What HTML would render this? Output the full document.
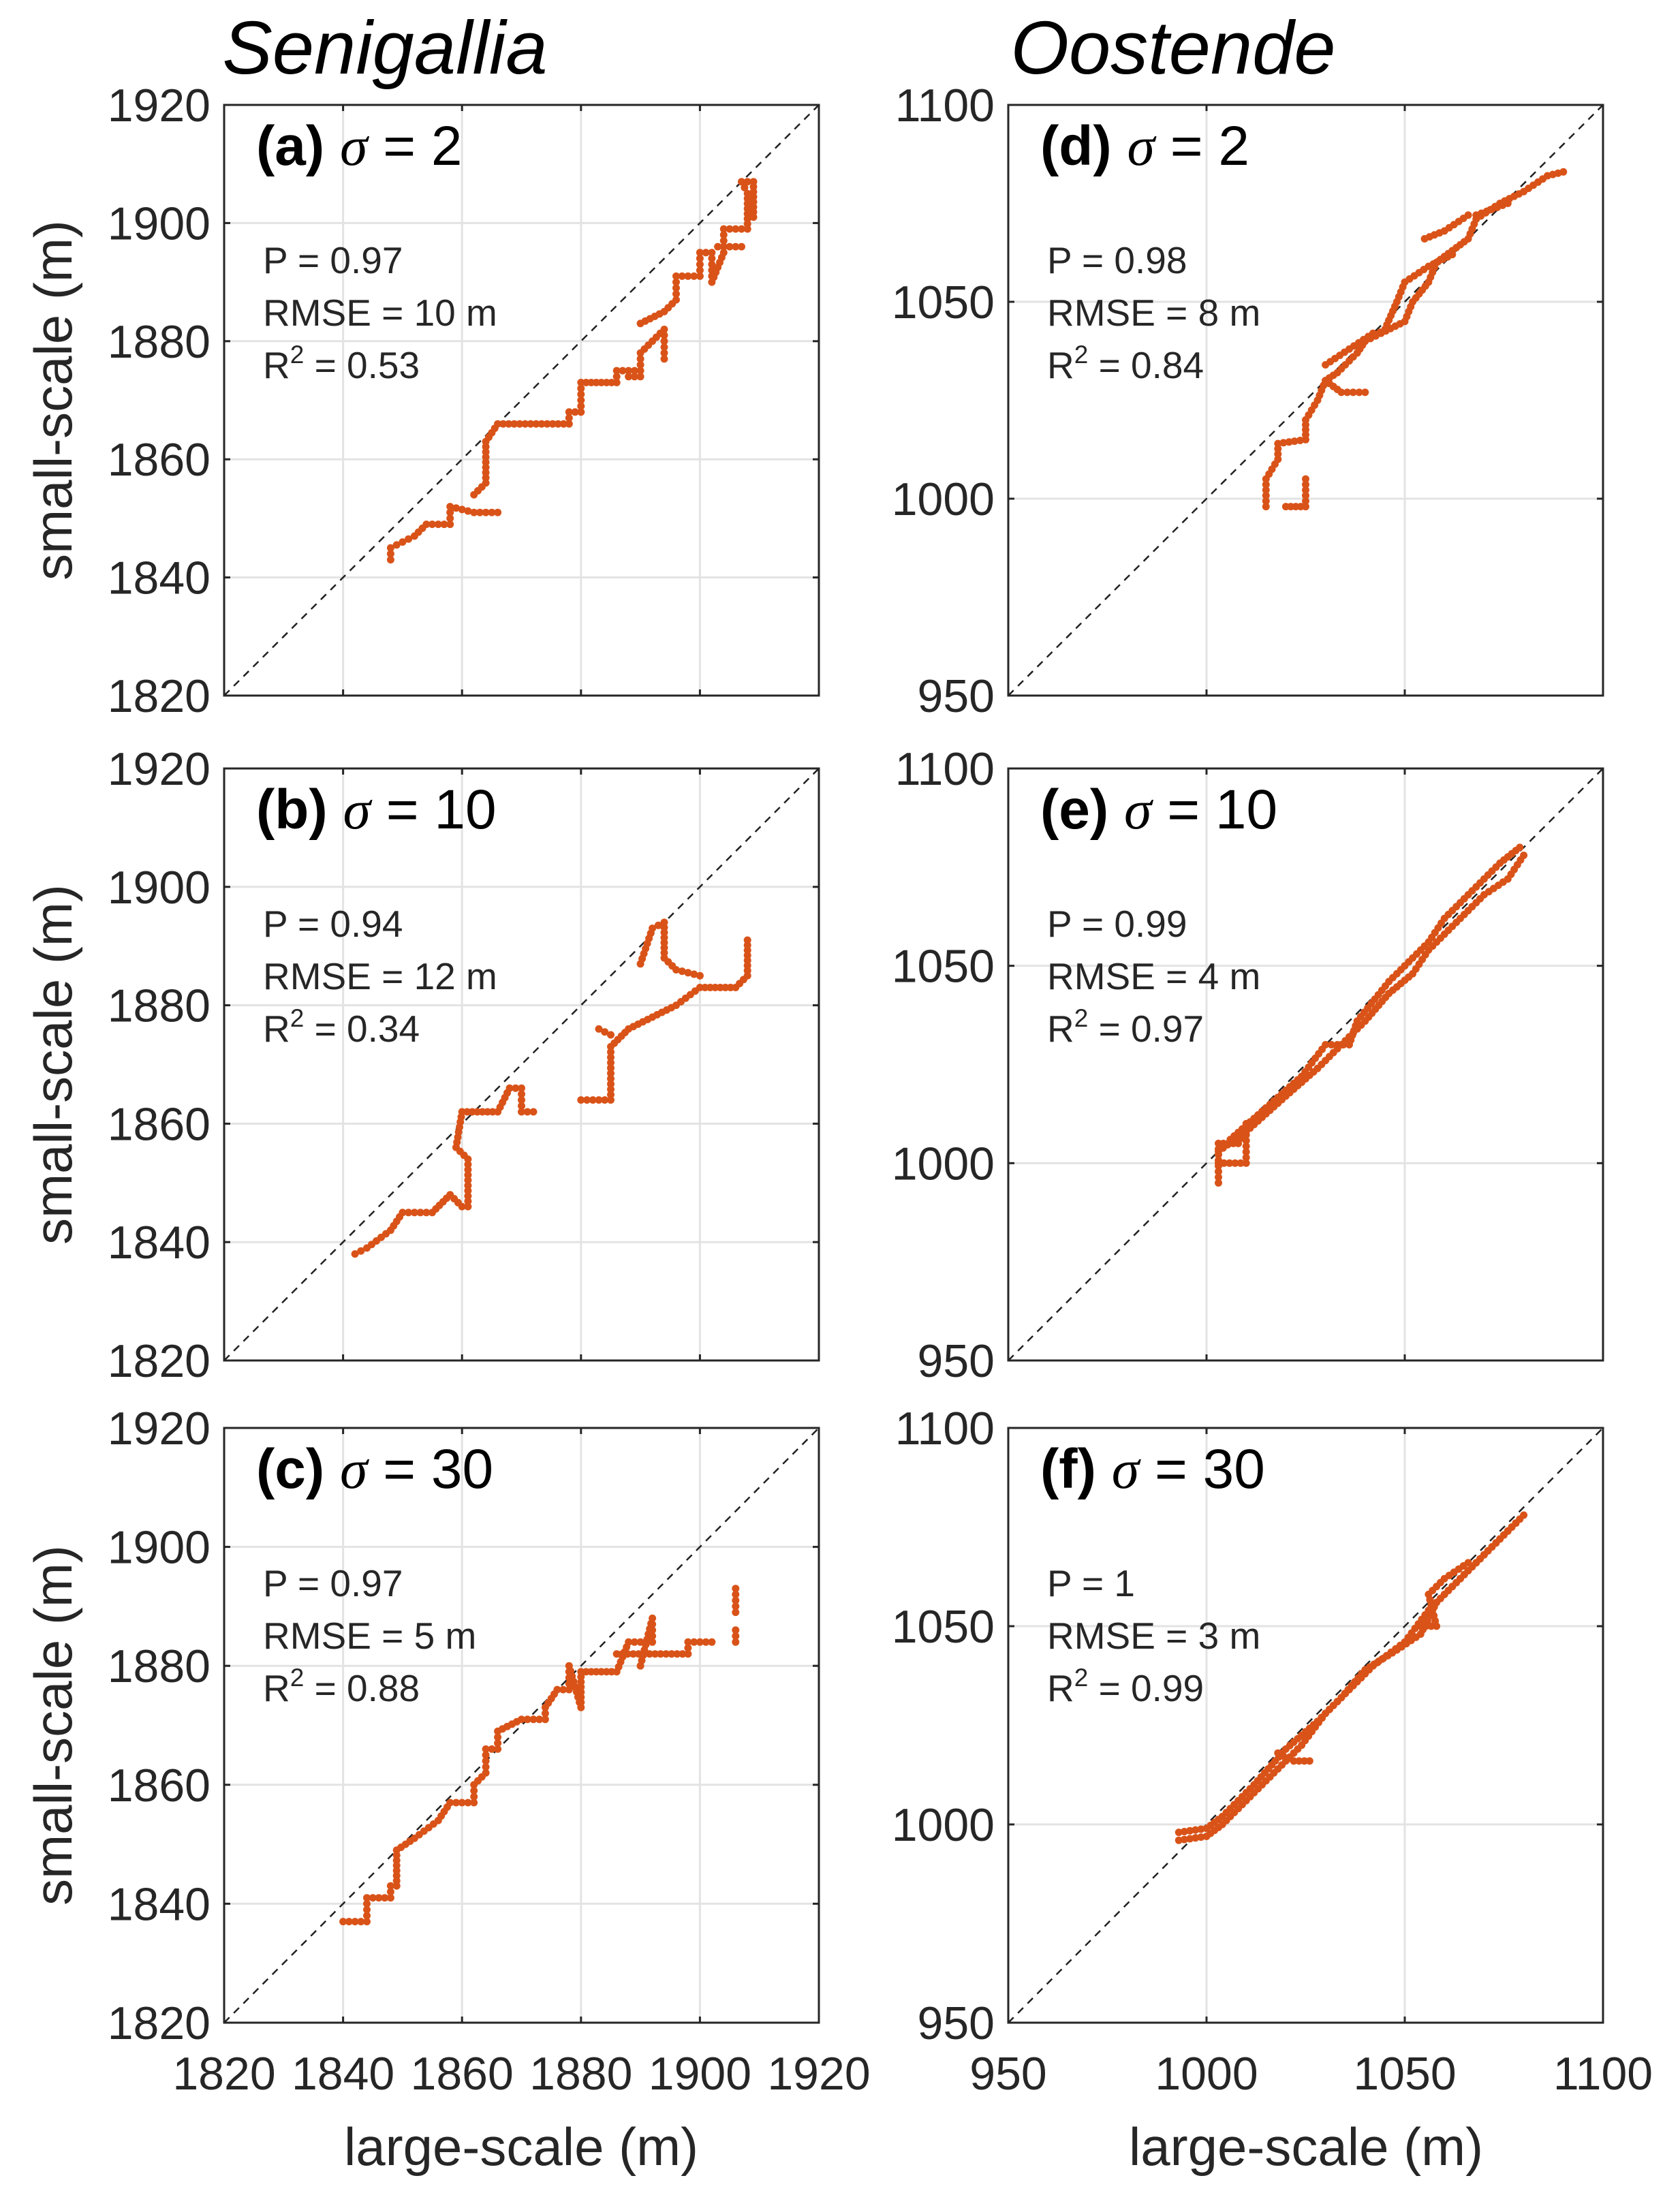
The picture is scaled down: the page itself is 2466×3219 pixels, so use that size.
<!DOCTYPE html>
<html><head><meta charset="utf-8"><style>
html,body{margin:0;padding:0;background:#fff;}
svg{display:block;font-family:"Liberation Sans",Arial,sans-serif;}
</style></head><body>
<svg id="s" xmlns="http://www.w3.org/2000/svg" width="2466" height="3219" viewBox="0 0 2466 3219"></svg>
<script>
var S=document.getElementById('s'),out='';
var cols=[{x0:329,x1:1202,min:1820,max:1920,step:20},{x0:1480,x1:2353,min:950,max:1100,step:50}];
var rows=[{y0:154,y1:1021},{y0:1128,y1:1997},{y0:2096,y1:2969}];
var labels=[["(a)","2","0.97","10","0.53"],["(b)","10","0.94","12","0.34"],["(c)","30","0.97","5","0.88"],
["(d)","2","0.98","8","0.84"],["(e)","10","0.99","4","0.97"],["(f)","30","1","3","0.99"]];
var paths=[
[[[1848,1843],[1848,1845],[1850,1846],[1852,1847],[1854,1849],[1858,1849],[1858,1852],[1862,1851],[1866,1851]],
 [[1862,1854],[1864,1856],[1864,1863],[1866,1866],[1878,1866],[1878,1868],[1880,1868],[1880,1873],[1886,1873],[1886,1875],[1890,1875],[1890,1878],[1892,1880],[1894,1882],[1894,1877]],
 [[1888,1874],[1890,1874]],[[1890,1883],[1894,1885],[1896,1887],[1896,1891],[1900,1891],[1900,1895],[1902,1895],[1902,1890],[1904,1895],[1904,1899],[1908,1899],[1908,1905],[1907,1907],[1909,1907],[1909,1901]],[[1903,1896],[1907,1896]]],
[[[1842,1838],[1844,1839],[1848,1842],[1850,1845],[1855,1845],[1858,1848],[1860,1846],[1861,1846],[1861,1854],[1859,1856],[1860,1862],[1866,1862],[1868,1866],[1870,1866],[1870,1862],[1872,1862]],
 [[1880,1864],[1885,1864],[1885,1873],[1888,1876],[1892,1878],[1896,1880],[1900,1883],[1906,1883],[1908,1885],[1908,1891]],
 [[1883,1876],[1885,1875]],[[1890,1887],[1892,1893],[1894,1894],[1894,1888],[1896,1886],[1900,1885]]],
[[[1840,1837],[1844,1837],[1844,1841],[1848,1841],[1848,1843],[1849,1843],[1849,1849],[1852,1851],[1856,1854],[1858,1857],[1862,1857],[1862,1860],[1864,1862],[1864,1866],[1866,1866],[1866,1869],[1870,1871],[1874,1871],[1874,1873],[1876,1876],[1878,1876],[1878,1880],[1880,1873],[1880,1879],[1886,1879],[1888,1884],[1892,1884],[1892,1888],[1890,1880]],
 [[1886,1882],[1898,1882],[1898,1884],[1902,1884]],[[1906,1884],[1906,1886]],[[1906,1889],[1906,1893]]],
[[[1015,998],[1015,1005],[1018,1010],[1018,1014],[1025,1015],[1025,1020],[1028,1025],[1030,1030],[1033,1032],[1038,1037],[1040,1040],[1044,1042],[1050,1045],[1052,1050],[1056,1055],[1058,1060],[1062,1063],[1066,1066],[1068,1071],[1074,1075],[1080,1078],[1086,1082],[1090,1083]],
 [[1020,998],[1025,998],[1025,1005]],[[1030,1030],[1034,1027],[1040,1027]],
 [[1040,1040],[1045,1043],[1048,1050],[1050,1055],[1056,1059],[1062,1062]],[[1055,1066],[1060,1068],[1066,1072],[1068,1072],[1076,1075]],[[1030,1034],[1036,1038],[1042,1042]]],
[[[1003,995],[1003,1005],[1008,1005],[1010,1010],[1010,1000],[1003,1000]],
 [[1003,1003],[1010,1008],[1020,1017],[1028,1024],[1036,1032],[1040,1036],[1046,1043],[1052,1048],[1056,1054],[1062,1060],[1066,1064],[1070,1068],[1076,1072],[1080,1078]],
 [[1006,1006],[1015,1014],[1024,1022],[1030,1030],[1036,1030],[1038,1036],[1046,1046],[1050,1050],[1056,1056],[1060,1062],[1068,1070],[1074,1076],[1079,1080]]],
[[[993,996],[1000,997],[1004,1000],[1010,1006],[1018,1014],[1024,1020],[1030,1028],[1036,1034],[1042,1040],[1050,1046],[1056,1054],[1062,1060],[1068,1066],[1074,1072],[1080,1078]],
 [[993,998],[1000,999],[1004,1002],[1012,1010],[1020,1019],[1028,1026],[1034,1032],[1040,1039],[1048,1044],[1054,1048],[1058,1056],[1064,1062],[1070,1068],[1078,1076]],
 [[1018,1018],[1022,1016],[1026,1016]],[[1054,1050],[1058,1050],[1056,1058],[1060,1062],[1066,1066]]]];
function t(x,y,s,sz,extra){out+='<text x="'+x+'" y="'+y+'" font-size="'+sz+'" fill="#262626" '+(extra||'')+'>'+s+'</text>';}
for(var c=0;c<2;c++)for(var r=0;r<3;r++){
 var C=cols[c],R=rows[r],k=c*3+r,L=labels[k];
 var sx=function(v){return C.x0+(v-C.min)/(C.max-C.min)*(C.x1-C.x0);};
 var sy=function(v){return R.y1-(v-C.min)/(C.max-C.min)*(R.y1-R.y0);};
 for(var v=C.min+C.step;v<C.max;v+=C.step){
  out+='<line x1="'+sx(v)+'" y1="'+R.y0+'" x2="'+sx(v)+'" y2="'+R.y1+'" stroke="#e3e3e3" stroke-width="3"/>';
  out+='<line x1="'+C.x0+'" y1="'+sy(v)+'" x2="'+C.x1+'" y2="'+sy(v)+'" stroke="#e3e3e3" stroke-width="3"/>';
 }
 out+='<line x1="'+C.x0+'" y1="'+R.y1+'" x2="'+C.x1+'" y2="'+R.y0+'" stroke="#222" stroke-width="2.5" stroke-dasharray="11,9"/>';
 var P=paths[k];
 for(var i=0;i<P.length;i++){var pl=P[i];
  for(var j=0;j<pl.length;j++){
   var a=pl[j],b=pl[j+1]||pl[j];
   var x1=sx(a[0]),y1=sy(a[1]),x2=sx(b[0]),y2=sy(b[1]);
   var d=Math.hypot(x2-x1,y2-y1),n=Math.max(1,Math.round(d/8));
   for(var m=0;m<n;m++){var f=m/n;out+='<circle cx="'+(x1+(x2-x1)*f).toFixed(1)+'" cy="'+(y1+(y2-y1)*f).toFixed(1)+'" r="5.5" fill="#d95319"/>';}
  }}
 out+='<rect x="'+C.x0+'" y="'+R.y0+'" width="'+(C.x1-C.x0)+'" height="'+(R.y1-R.y0)+'" fill="none" stroke="#262626" stroke-width="3"/>';
 for(var v=C.min;v<=C.max;v+=C.step){
  t(C.x0-20,sy(v)+24,v,68,'text-anchor="end"');
  if(v>C.min&&v<C.max){out+='<line x1="'+sx(v)+'" y1="'+R.y1+'" x2="'+sx(v)+'" y2="'+(R.y1-9)+'" stroke="#262626" stroke-width="3"/><line x1="'+sx(v)+'" y1="'+R.y0+'" x2="'+sx(v)+'" y2="'+(R.y0+9)+'" stroke="#262626" stroke-width="3"/>';
  out+='<line x1="'+C.x0+'" y1="'+sy(v)+'" x2="'+(C.x0+9)+'" y2="'+sy(v)+'" stroke="#262626" stroke-width="3"/><line x1="'+C.x1+'" y1="'+sy(v)+'" x2="'+(C.x1-9)+'" y2="'+sy(v)+'" stroke="#262626" stroke-width="3"/>';}
  if(r==2)t(sx(v),R.y1+98,v,68,'text-anchor="middle"');
 }
 var lx=C.x0+47;
 out+='<text x="'+lx+'" y="'+(R.y0+88)+'" font-size="82" fill="#000"><tspan font-weight="bold">'+L[0]+'</tspan> <tspan font-style="italic" font-family="Liberation Serif,serif">σ</tspan> = '+L[1]+'</text>';
 t(lx+10,R.y0+247,'P = '+L[2],55);
 t(lx+10,R.y0+324,'RMSE = '+L[3]+' m',55);
 out+='<text x="'+(lx+10)+'" y="'+(R.y0+401)+'" font-size="55" fill="#262626">R<tspan dy="-22" font-size="37">2</tspan><tspan dy="22"> = '+L[4]+'</tspan></text>';
 if(c==0)t(0,0,'small-scale (m)',78,'text-anchor="middle" transform="translate(105,'+((R.y0+R.y1)/2)+') rotate(-90)"');
}
t(765,3178,'large-scale (m)',78,'text-anchor="middle"');
t(1917,3178,'large-scale (m)',78,'text-anchor="middle"');
out+='<text x="565" y="108" font-size="110" font-style="italic" fill="#000" text-anchor="middle">Senigallia</text>';
out+='<text x="1722" y="108" font-size="110" font-style="italic" fill="#000" text-anchor="middle">Oostende</text>';
S.innerHTML=out;
</script>
</body></html>
